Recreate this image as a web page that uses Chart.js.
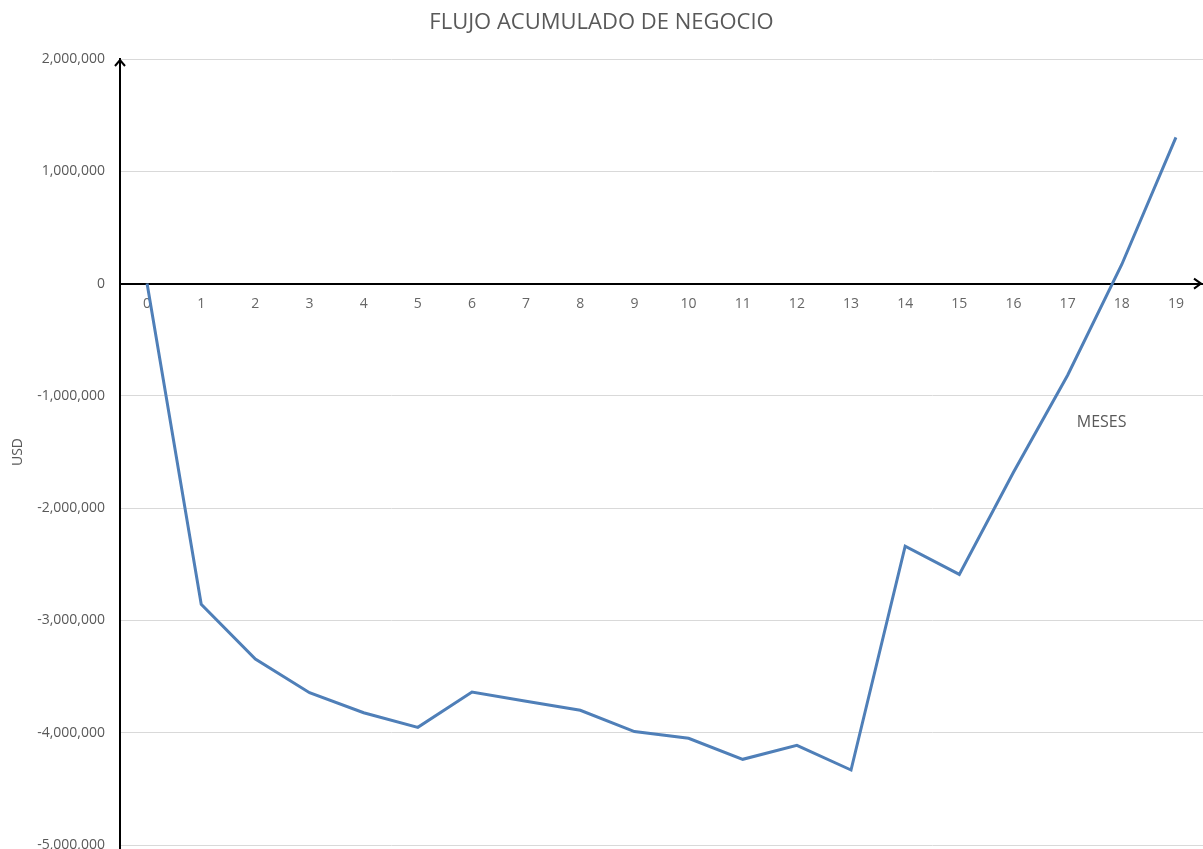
<!DOCTYPE html>
<html>
<head>
<meta charset="utf-8">
<script src="https://cdn.jsdelivr.net/npm/chart.js@4.4.1/dist/chart.umd.min.js"></script>
<style>
html,body{margin:0;padding:0;background:#fff;}
#wrap{position:relative;width:1203px;height:849px;}
</style>
</head>
<body>
<div id="wrap"><canvas id="c" width="1203" height="849"></canvas></div>
<script>
const months = ['0','1','2','3','4','5','6','7','8','9','10','11','12','13','14','15','16','17','18','19'];
const flujoAcumulado = [0, -2857000, -3344000, -3644000, -3822000, -3952000, -3638000, -3720000, -3800000, -3990000, -4050000, -4237000, -4112000, -4332000, -2338000, -2590000, -1680000, -816000, 170000, 1302000];
const yTicks = [2000000, 1000000, 0, -1000000, -2000000, -3000000, -4000000, -5000000];
const chartTitle = 'FLUJO ACUMULADO DE NEGOCIO';
const yTitle = 'USD';
const xTitle = 'MESES';

const FONT = "'Open Sans', 'Liberation Sans', sans-serif";
const GRAY = '#595959';

const arrows = {
  id: 'arrows',
  afterDraw(chart) {
    const ctx = chart.ctx;
    const ca = chart.chartArea;
    const y0 = chart.scales.y.getPixelForValue(0);
    ctx.save();
    ctx.strokeStyle = '#000';
    ctx.lineWidth = 2;
    const ax = ca.left;
    ctx.beginPath();
    ctx.moveTo(ax - 5, ca.top + 7);
    ctx.lineTo(ax, ca.top + 1);
    ctx.lineTo(ax + 5, ca.top + 7);
    ctx.stroke();
    ctx.beginPath();
    ctx.moveTo(ax, ca.bottom);
    ctx.lineTo(ax, chart.height);
    ctx.stroke();
    ctx.beginPath();
    ctx.moveTo(ca.right - 9, y0 - 5);
    ctx.lineTo(ca.right - 2, y0);
    ctx.lineTo(ca.right - 9, y0 + 5);
    ctx.stroke();
    ctx.fillStyle = GRAY;
    ctx.font = "16px " + FONT;
    ctx.textAlign = 'center';
    ctx.textBaseline = 'middle';
    ctx.fillText(xTitle, chart.scales.x.getPixelForValue(17) + 34, chart.scales.y.getPixelForValue(-1240000));
    ctx.restore();
  }
};

new Chart(document.getElementById('c'), {
  type: 'line',
  data: {
    labels: months,
    datasets: [{
      data: flujoAcumulado,
      borderColor: '#4f7fb8',
      borderWidth: 3,
      pointRadius: 0,
      tension: 0,
      fill: false
    }]
  },
  options: {
    responsive: false,
    animation: false,
    layout: { padding: { left: 0, right: 0, top: 0, bottom: 4 } },
    plugins: {
      legend: { display: false },
      tooltip: { enabled: false },
      title: {
        display: true,
        text: chartTitle,
        color: GRAY,
        font: { family: FONT, size: 22, weight: 'normal' },
        padding: { top: 10, bottom: 22.6 }
      }
    },
    scales: {
      x: {
        type: 'category',
        offset: true,
        position: { y: 0 },
        grid: { display: false, drawTicks: false },
        border: { display: true, color: '#000', width: 2 },
        ticks: {
          color: '#666666',
          font: { family: FONT, size: 14 },
          padding: 12,
          maxRotation: 0,
          autoSkip: false
        }
      },
      y: {
        type: 'linear',
        min: -5000000,
        max: 2000000,
        afterBuildTicks(scale) { scale.ticks = yTicks.map(v => ({ value: v })); },
        afterFit(scale) { scale.width = 120; scale.paddingTop = 0; scale.paddingBottom = 0; },
        grid: { color: '#d9d9d9', lineWidth: 1, drawTicks: false },
        border: { display: true, color: '#000', width: 2 },
        ticks: {
          color: GRAY,
          font: { family: FONT, size: 14 },
          padding: 15,
          callback: v => v.toLocaleString('en-US')
        },
        title: {
          display: true,
          text: yTitle,
          color: GRAY,
          font: { family: FONT, size: 14 },
          padding: { top: 10, bottom: 0 }
        }
      }
    }
  },
  plugins: [arrows]
});
</script>
</body>
</html>
